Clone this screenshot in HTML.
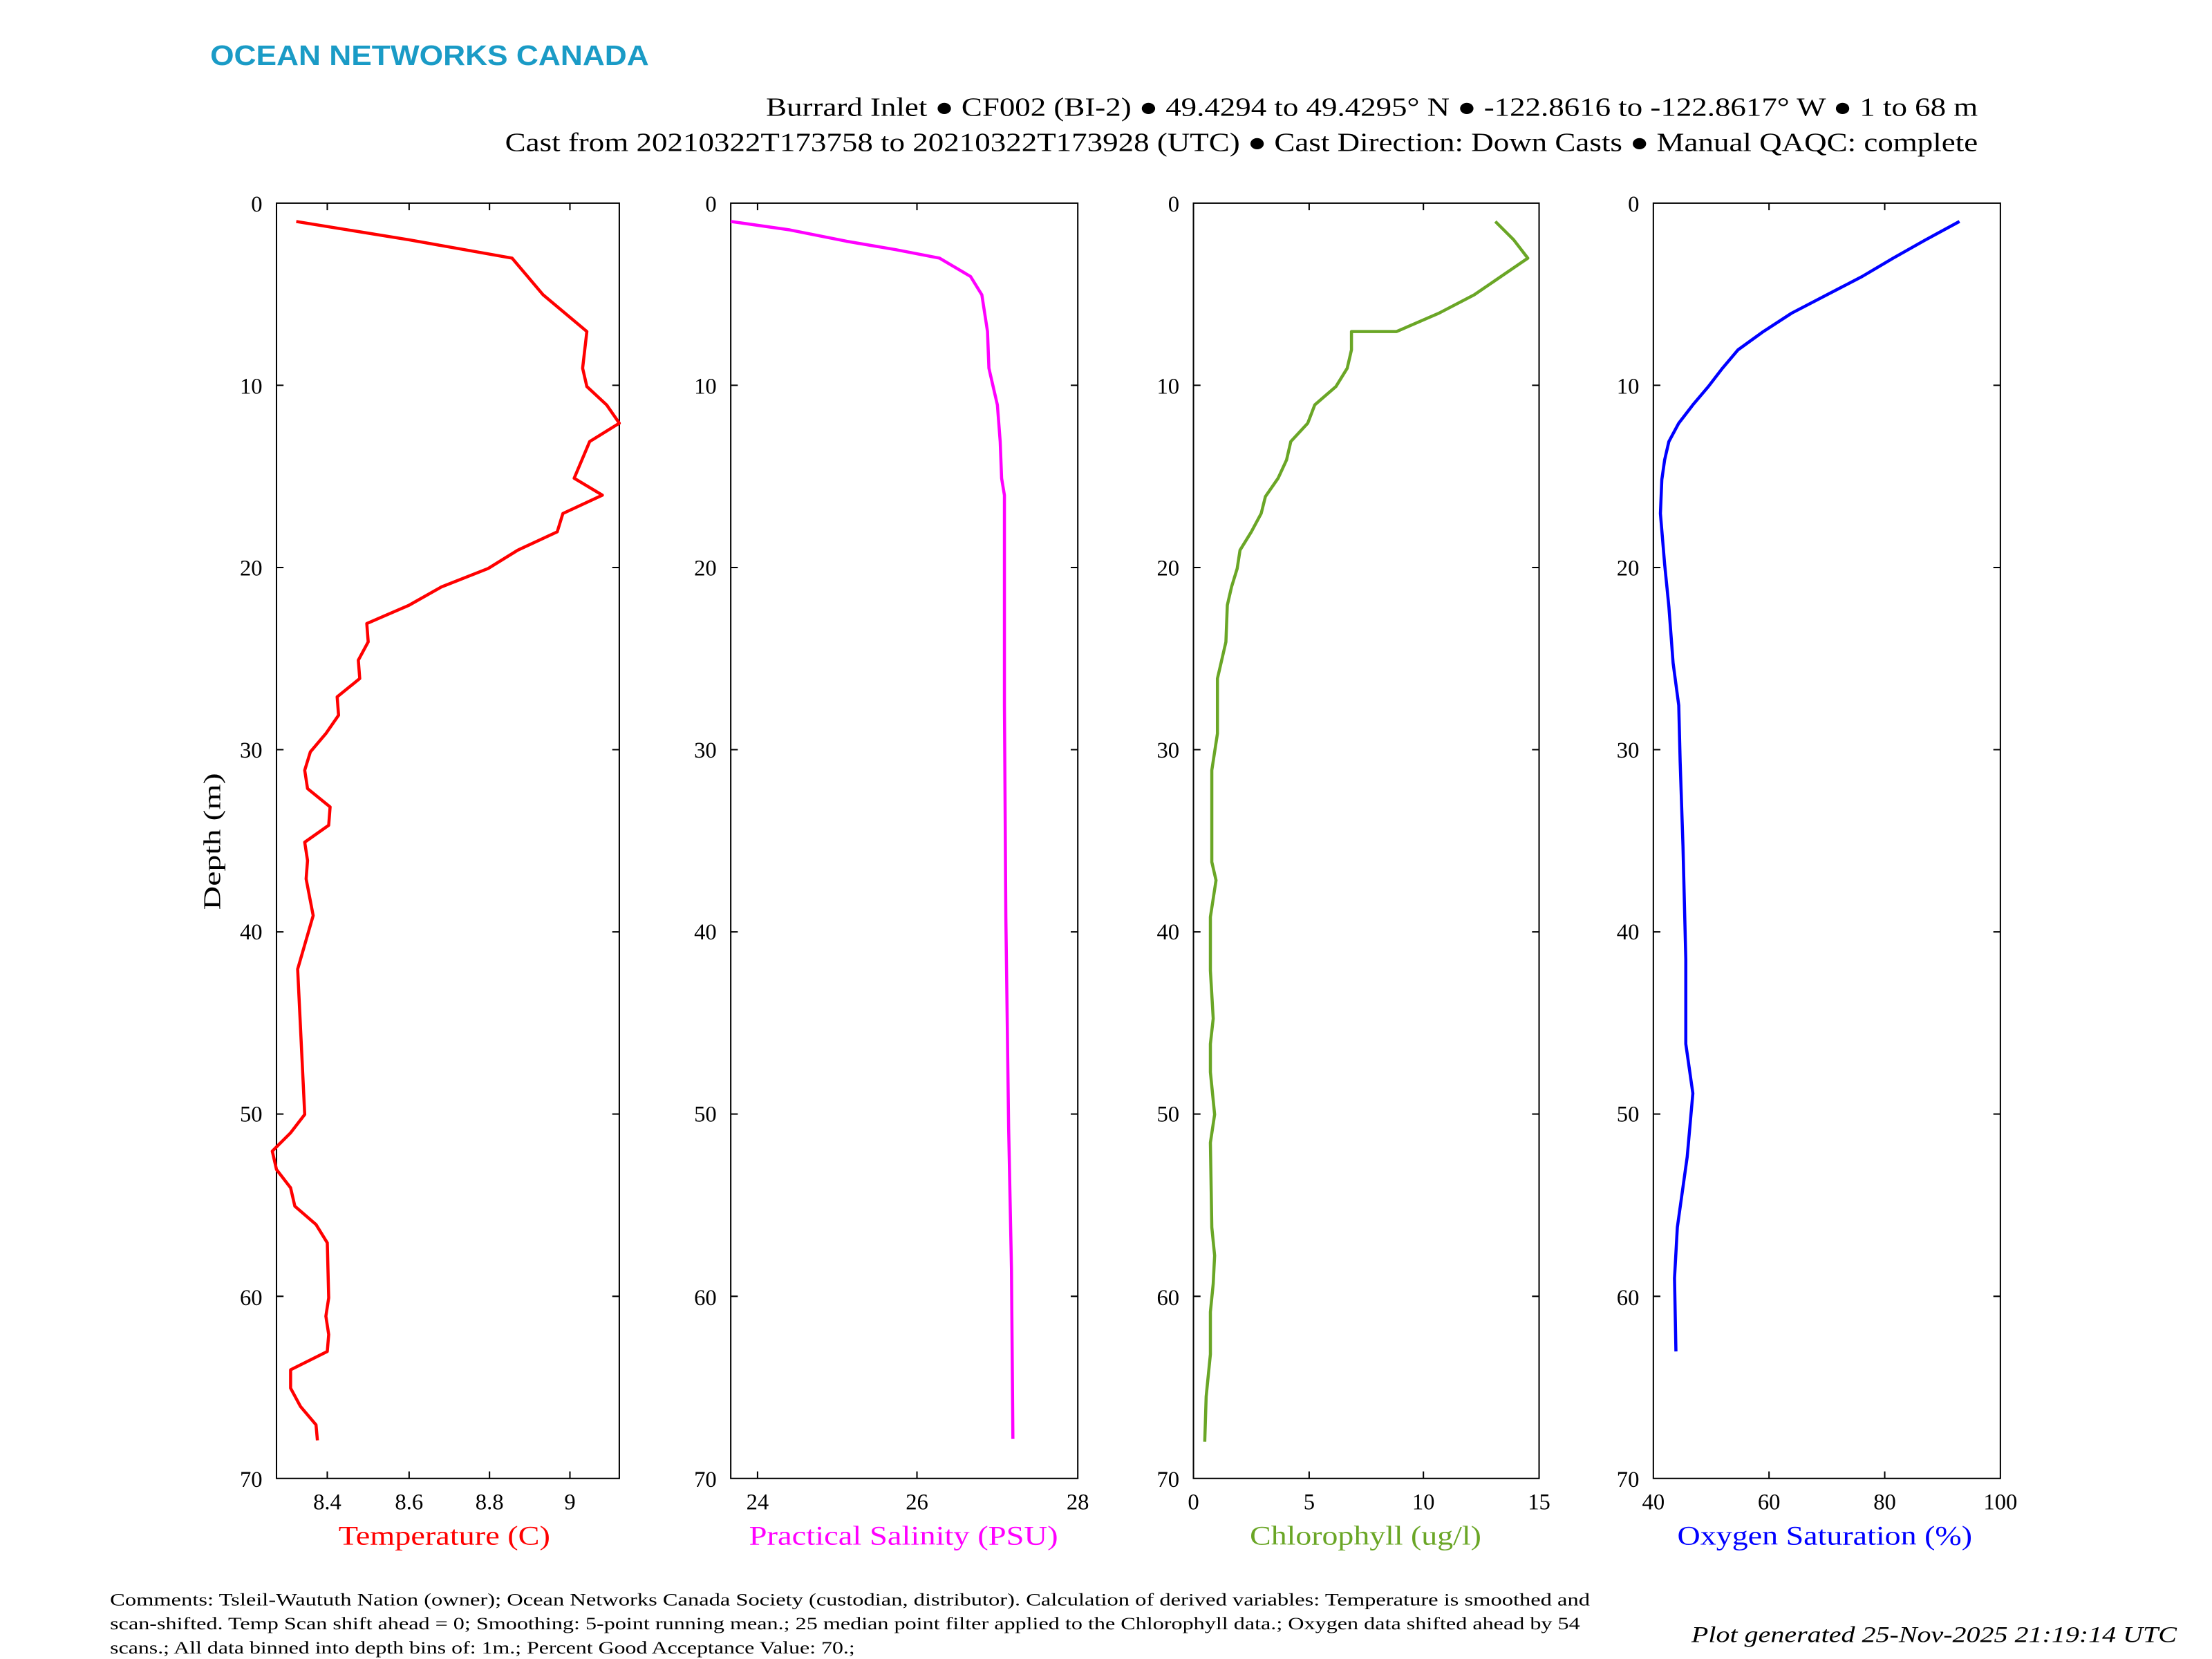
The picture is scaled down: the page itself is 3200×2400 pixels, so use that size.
<!DOCTYPE html>
<html><head><meta charset="utf-8"><style>
html,body{margin:0;padding:0;background:#fff;}
svg{display:block;}
text{font-family:"Liberation Serif",serif;}
</style></head><body>
<svg width="3200" height="2400" viewBox="0 0 1568 1176" xmlns="http://www.w3.org/2000/svg">
<rect width="1568" height="1176" fill="#fff"/>
<text x="149" y="46" textLength="311" lengthAdjust="spacingAndGlyphs" style="font-family:'Liberation Sans',sans-serif;font-weight:bold;font-size:20px" fill="#1a9bc6">OCEAN NETWORKS CANADA</text>
<text x="543" y="82" textLength="859" lengthAdjust="spacingAndGlyphs" font-size="18.5">Burrard Inlet ● CF002 (BI-2) ● 49.4294 to 49.4295° N ● -122.8616 to -122.8617° W ● 1 to 68 m</text>
<text x="358" y="107" textLength="1044" lengthAdjust="spacingAndGlyphs" font-size="18.5">Cast from 20210322T173758 to 20210322T173928 (UTC) ● Cast Direction: Down Casts ● Manual QAQC: complete</text>

<g fill="none" stroke="#000" stroke-width="1">
<rect x="196" y="144" width="243" height="904"/>
<rect x="518" y="144" width="246" height="904"/>
<rect x="846" y="144" width="245" height="904"/>
<rect x="1172" y="144" width="246" height="904"/>
</g>
<g stroke="#000" stroke-width="1">
<path d="M196 273.1h5M196 402.3h5M196 531.4h5M196 660.6h5M196 789.7h5M196 918.9h5M439 273.1h-5M439 402.3h-5M439 531.4h-5M439 660.6h-5M439 789.7h-5M439 918.9h-5"/>
<path d="M518 273.1h5M518 402.3h5M518 531.4h5M518 660.6h5M518 789.7h5M518 918.9h5M764 273.1h-5M764 402.3h-5M764 531.4h-5M764 660.6h-5M764 789.7h-5M764 918.9h-5"/>
<path d="M846 273.1h5M846 402.3h5M846 531.4h5M846 660.6h5M846 789.7h5M846 918.9h5M1091 273.1h-5M1091 402.3h-5M1091 531.4h-5M1091 660.6h-5M1091 789.7h-5M1091 918.9h-5"/>
<path d="M1172 273.1h5M1172 402.3h5M1172 531.4h5M1172 660.6h5M1172 789.7h5M1172 918.9h5M1418 273.1h-5M1418 402.3h-5M1418 531.4h-5M1418 660.6h-5M1418 789.7h-5M1418 918.9h-5"/>
<path d="M232 1048v-5M290 1048v-5M347 1048v-5M404 1048v-5M232 144v5M290 144v5M347 144v5M404 144v5"/>
<path d="M537 1048v-5M650 1048v-5M537 144v5M650 144v5"/>
<path d="M928 1048v-5M1009 1048v-5M928 144v5M1009 144v5"/>
<path d="M1254 1048v-5M1336 1048v-5M1254 144v5M1336 144v5"/>
</g>
<g font-size="16" text-anchor="end">
<text x="186" y="150">0</text><text x="186" y="279">10</text><text x="186" y="408">20</text><text x="186" y="537">30</text><text x="186" y="666">40</text><text x="186" y="795">50</text><text x="186" y="925">60</text><text x="186" y="1054">70</text>
<text x="508" y="150">0</text><text x="508" y="279">10</text><text x="508" y="408">20</text><text x="508" y="537">30</text><text x="508" y="666">40</text><text x="508" y="795">50</text><text x="508" y="925">60</text><text x="508" y="1054">70</text>
<text x="836" y="150">0</text><text x="836" y="279">10</text><text x="836" y="408">20</text><text x="836" y="537">30</text><text x="836" y="666">40</text><text x="836" y="795">50</text><text x="836" y="925">60</text><text x="836" y="1054">70</text>
<text x="1162" y="150">0</text><text x="1162" y="279">10</text><text x="1162" y="408">20</text><text x="1162" y="537">30</text><text x="1162" y="666">40</text><text x="1162" y="795">50</text><text x="1162" y="925">60</text><text x="1162" y="1054">70</text>
</g>
<g font-size="16" text-anchor="middle">
<text x="232" y="1070">8.4</text><text x="290" y="1070">8.6</text><text x="347" y="1070">8.8</text><text x="404" y="1070">9</text>
<text x="537" y="1070">24</text><text x="650" y="1070">26</text><text x="764" y="1070">28</text>
<text x="846" y="1070">0</text><text x="928" y="1070">5</text><text x="1009" y="1070">10</text><text x="1091" y="1070">15</text>
<text x="1172" y="1070">40</text><text x="1254" y="1070">60</text><text x="1336" y="1070">80</text><text x="1418" y="1070">100</text>
</g>
<text transform="translate(156,645) rotate(-90)" textLength="97" lengthAdjust="spacingAndGlyphs" font-size="17">Depth (m)</text>
<g font-size="19">
<text x="240" y="1095" textLength="150" lengthAdjust="spacingAndGlyphs" fill="#ff0000">Temperature (C)</text>
<text x="531" y="1095" textLength="219" lengthAdjust="spacingAndGlyphs" fill="#ff00ff">Practical Salinity (PSU)</text>
<text x="886" y="1095" textLength="164" lengthAdjust="spacingAndGlyphs" fill="#6aa626">Chlorophyll (ug/l)</text>
<text x="1189" y="1095" textLength="209" lengthAdjust="spacingAndGlyphs" fill="#0000ff">Oxygen Saturation (%)</text>
</g>
<g fill="none" stroke-width="2.2" stroke-linejoin="round">
<polyline stroke="#ff0000" points="210,157 290,170 363,183 385,209 416,235 413,261 416,274 430,287 439,300 418,313 407,339 427,351 399,364 395,377 367,390 346,403 313,416 290,429 260,442 261,455 254,468 255,481 239,494 240,507 231,520 220,533 216,546 218,559 234,572 233,585 216,597 218,610 217,623 222,649 211,687 216,790 206,803 193,816 196,829 206,842 209,855 224,868 232,881 233,920 231,933 233,946 232,958 206,971 206,984 213,997 224,1010 225,1021"/>
<polyline stroke="#ff00ff" points="518,157 560,163 600,171 635,177 666,183 688,196 696,209 700,235 701,261 704,274 707,287 709,313 710,339 712,351 712,500 713,650 715,800 717,900 718,1020"/>
<polyline stroke="#6aa626" points="1060,157 1073,170 1083,183 1045,209 1020,222 990,235 958,235 958,248 955,261 947,274 932,287 927,300 915,313 912,326 906,339 897,352 894,364 887,377 879,390 877,403 873,416 870,429 869,455 863,481 863,520 859,546 859,611 862,624 858,650 858,688 860,722 858,740 858,760 861,790 858,810 859,870 861,890 860,910 858,930 858,960 855,990 854,1022"/>
<polyline stroke="#0000ff" points="1389,157 1365,170 1342,183 1320,196 1295,209 1270,222 1250,235 1232,248 1221,261 1211,274 1200,287 1190,300 1183,313 1180,326 1178,340 1177,364 1180,400 1183,430 1186,470 1190,500 1191,540 1193,600 1195,680 1195,740 1200,775 1196,820 1189,870 1187,906 1188,958"/>
</g>
<g font-size="12.5">
<text x="78" y="1138" textLength="1049" lengthAdjust="spacingAndGlyphs">Comments: Tsleil-Waututh Nation (owner); Ocean Networks Canada Society (custodian, distributor). Calculation of derived variables: Temperature is smoothed and</text>
<text x="78" y="1155" textLength="1042" lengthAdjust="spacingAndGlyphs">scan-shifted. Temp Scan shift ahead = 0; Smoothing: 5-point running mean.; 25 median point filter applied to the Chlorophyll data.; Oxygen data shifted ahead by 54</text>
<text x="78" y="1172" textLength="528" lengthAdjust="spacingAndGlyphs">scans.; All data binned into depth bins of: 1m.; Percent Good Acceptance Value: 70.;</text>
</g>
<text x="1199" y="1164" textLength="344" lengthAdjust="spacingAndGlyphs" font-size="16" font-style="italic">Plot generated 25-Nov-2025 21:19:14 UTC</text>
</svg>
</body></html>
